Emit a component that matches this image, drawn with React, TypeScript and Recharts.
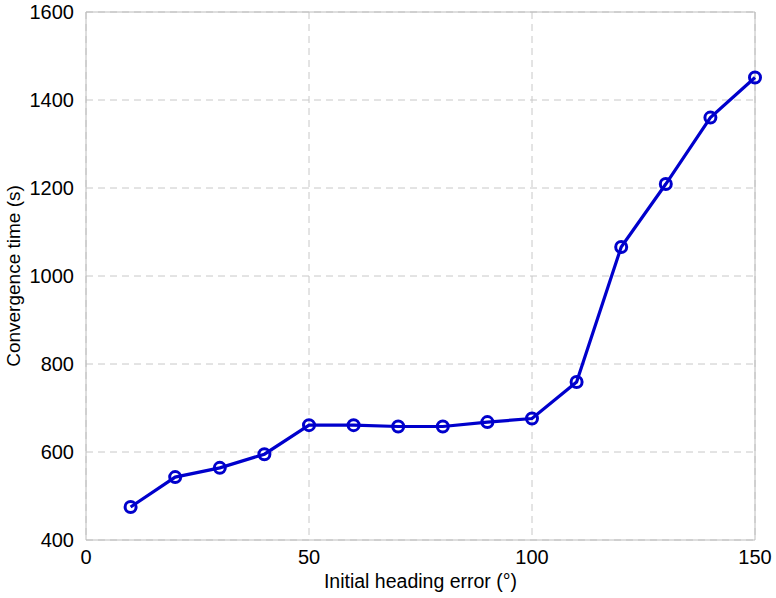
import { LineChart, Line, XAxis, YAxis, CartesianGrid, ReferenceLine } from 'recharts';

const headingError = [10, 20, 30, 40, 50, 60, 70, 80, 90, 100, 110, 120, 130, 140, 150];
const convergenceTime = [475, 543, 564, 595, 661, 661, 658, 658, 668, 676, 759, 1066, 1209, 1360, 1451];
const xTicks = [0, 50, 100, 150];
const yTicks = [400, 600, 800, 1000, 1200, 1400, 1600];

const data = headingError.map((x, i) => ({ x, t: convergenceTime[i] }));

const font = '"Liberation Sans", Arial, sans-serif';
const axisGray = '#bcbcbc';

export default function App() {
  return (
    <div style={{ position: 'absolute', left: 0, top: 0, background: '#fff' }}>
      <LineChart
        width={776}
        height={598}
        data={data}
        margin={{ top: 12, right: 21, bottom: 0, left: 0 }}
        style={{ fontFamily: font }}
      >
        <CartesianGrid stroke="#c8c8c8" strokeDasharray="7 5" />
        <XAxis
          dataKey="x"
          type="number"
          domain={[0, 150]}
          ticks={xTicks}
          height={58}
          stroke={axisGray}
          tickLine={false}
          fontSize={20}
          tick={{ fill: '#000', fontSize: 20 }}
          tickMargin={4}
          label={{ value: 'Initial heading error (°)', position: 'insideBottom', offset: 10, fill: '#000', fontSize: 19.5 }}
        />
        <YAxis
          type="number"
          domain={[400, 1600]}
          ticks={yTicks}
          width={86}
          stroke={axisGray}
          tickLine={false}
          fontSize={20}
          tick={{ fill: '#000', fontSize: 20 }}
          tickMargin={6}
          label={{ value: 'Convergence time (s)', angle: -90, position: 'insideLeft', offset: 13, fill: '#000', fontSize: 19, style: { textAnchor: 'middle' } }}
        />
        <ReferenceLine y={1600} stroke={axisGray} />
        <ReferenceLine x={150} stroke={axisGray} />
        <Line
          dataKey="t"
          stroke="#0000cc"
          strokeWidth={3.2}
          dot={{ r: 5.5, stroke: '#0000cc', strokeWidth: 3, fill: 'none' }}
          isAnimationActive={false}
        />
      </LineChart>
    </div>
  );
}
